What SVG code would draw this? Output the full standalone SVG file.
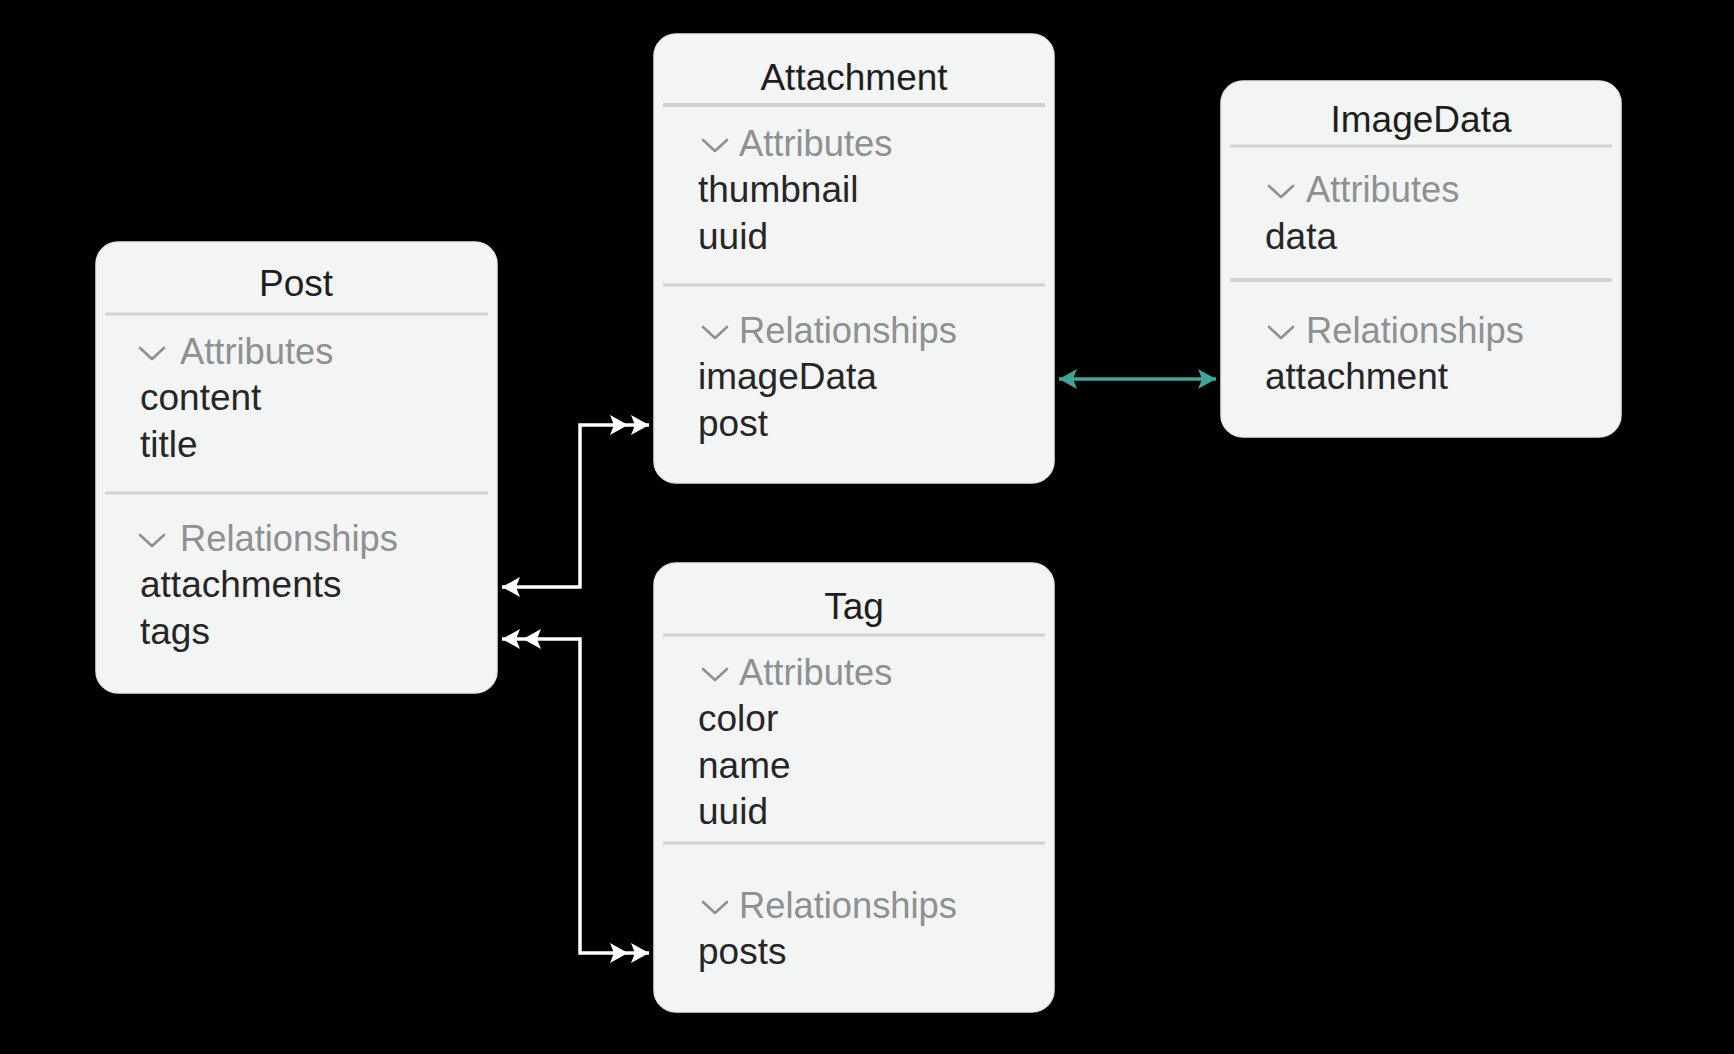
<svg xmlns="http://www.w3.org/2000/svg" width="1734" height="1054" viewBox="0 0 1734 1054">
<defs>
<style>
.box{fill:#f3f5f5;stroke:#e6e9ea;stroke-width:1.5}
.sep{stroke:#cfd3d5;stroke-width:3}
.title{font-family:"Liberation Sans",Arial,sans-serif;font-size:37px;fill:#1e1e1e;text-anchor:middle}
.sec{font-family:"Liberation Sans",Arial,sans-serif;font-size:36.3px;fill:#8e9091}
.item{font-family:"Liberation Sans",Arial,sans-serif;font-size:37px;fill:#262626}
.chev{fill:none;stroke:#8e9091;stroke-width:2.6;stroke-linecap:round;stroke-linejoin:round}
.conn{fill:none;stroke:#ffffff;stroke-width:3.5}
.teal{fill:none;stroke:#3fa597;stroke-width:3.5}
</style>
<marker id="one" markerUnits="userSpaceOnUse" markerWidth="20" markerHeight="20" refX="18" refY="10" orient="auto-start-reverse" viewBox="0 0 20 20">
<path d="M0,0 L18,10 L0,20 L4,10 z" fill="#ffffff"/>
</marker>
<marker id="many" markerUnits="userSpaceOnUse" markerWidth="40" markerHeight="20" refX="39" refY="10" orient="auto-start-reverse" viewBox="0 0 40 20">
<path d="M0,0 L18,10 L0,20 L4,10 z M21,0 L39,10 L21,20 L25,10 z" fill="#ffffff"/>
</marker>
<marker id="tealone" markerUnits="userSpaceOnUse" markerWidth="20" markerHeight="20" refX="18" refY="10" orient="auto-start-reverse" viewBox="0 0 20 20">
<path d="M0,0 L18,10 L0,20 L4,10 z" fill="#3fa597"/>
</marker>
</defs>
<rect width="1734" height="1054" fill="#000000"/>

<g id="connectors">
<path class="conn" d="M502,587 H580 V425 H649" marker-start="url(#one)" marker-end="url(#many)"/>
<path class="conn" d="M502,639 H580 V953 H649" marker-start="url(#many)" marker-end="url(#many)"/>
<path class="teal" d="M1059,379 H1216" marker-start="url(#tealone)" marker-end="url(#tealone)"/>
</g>

<g id="post">
<rect class="box" x="96" y="242" width="401" height="451" rx="22"/>
<text class="title" x="296" y="296">Post</text>
<line class="sep" x1="105" y1="314" x2="488" y2="314"/>
<polyline class="chev" points="140,348 152,359 164,348"/>
<text class="sec" x="180" y="364">Attributes</text>
<text class="item" x="140" y="410">content</text>
<text class="item" x="140" y="457">title</text>
<line class="sep" x1="105" y1="493" x2="488" y2="493"/>
<polyline class="chev" points="140,535 152,546 164,535"/>
<text class="sec" x="180" y="551">Relationships</text>
<text class="item" x="140" y="597">attachments</text>
<text class="item" x="140" y="644">tags</text>
</g>

<g id="attachment">
<rect class="box" x="654" y="34" width="400" height="449" rx="22"/>
<text class="title" x="854" y="90">Attachment</text>
<line class="sep" x1="663" y1="105" x2="1045" y2="105" style="stroke-width:4"/>
<polyline class="chev" points="703,140 715,151 727,140"/>
<text class="sec" x="739" y="156">Attributes</text>
<text class="item" x="698" y="202">thumbnail</text>
<text class="item" x="698" y="249">uuid</text>
<line class="sep" x1="663" y1="285" x2="1045" y2="285"/>
<polyline class="chev" points="703,327 715,338 727,327"/>
<text class="sec" x="739" y="343">Relationships</text>
<text class="item" x="698" y="389">imageData</text>
<text class="item" x="698" y="436">post</text>
</g>

<g id="imagedata">
<rect class="box" x="1221" y="81" width="400" height="356" rx="22"/>
<text class="title" x="1421" y="132">ImageData</text>
<line class="sep" x1="1230" y1="146" x2="1612" y2="146"/>
<polyline class="chev" points="1269,186 1281,197 1293,186"/>
<text class="sec" x="1306" y="202">Attributes</text>
<text class="item" x="1265" y="249">data</text>
<line class="sep" x1="1230" y1="280" x2="1612" y2="280" style="stroke-width:4"/>
<polyline class="chev" points="1269,327 1281,338 1293,327"/>
<text class="sec" x="1306" y="343">Relationships</text>
<text class="item" x="1265" y="389">attachment</text>
</g>

<g id="tag">
<rect class="box" x="654" y="563" width="400" height="449" rx="22"/>
<text class="title" x="854" y="619">Tag</text>
<line class="sep" x1="663" y1="635" x2="1045" y2="635"/>
<polyline class="chev" points="703,669 715,680 727,669"/>
<text class="sec" x="739" y="685">Attributes</text>
<text class="item" x="698" y="731">color</text>
<text class="item" x="698" y="778">name</text>
<text class="item" x="698" y="824">uuid</text>
<line class="sep" x1="663" y1="843" x2="1045" y2="843"/>
<polyline class="chev" points="703,902 715,913 727,902"/>
<text class="sec" x="739" y="918">Relationships</text>
<text class="item" x="698" y="964">posts</text>
</g>
</svg>
